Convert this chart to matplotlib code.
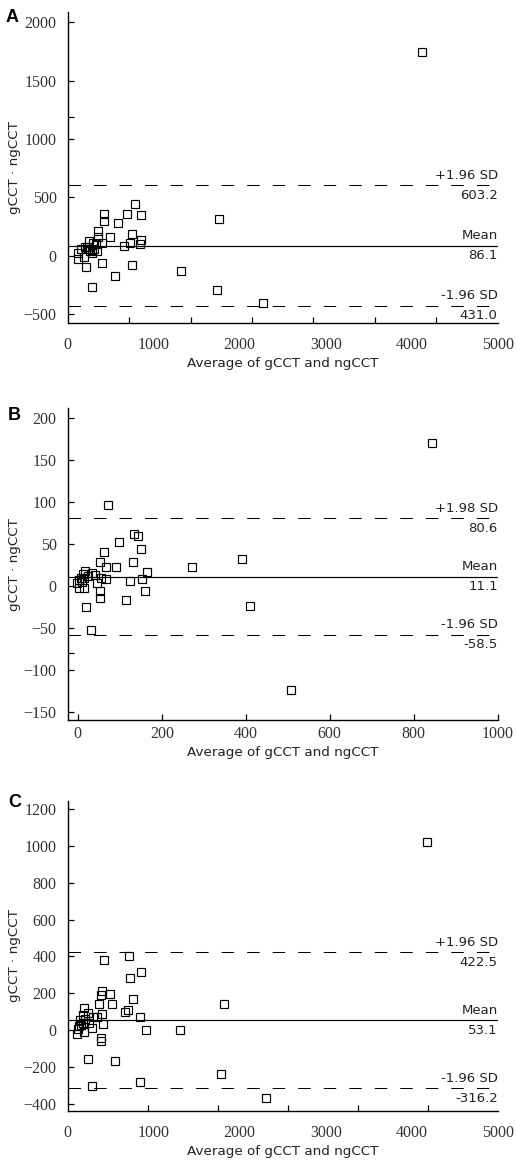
import matplotlib
matplotlib.use("Agg")
import matplotlib.pyplot as plt
from matplotlib.ticker import FixedLocator

# ---------------- data ----------------
A_x = [4119, 1764, 1322, 1741, 2276, 783, 694, 857, 419, 419, 585, 496, 356, 356, 748,
       729, 857, 845, 659, 403, 252, 294, 197, 155, 236, 279, 345, 286, 124, 124, 193,
       217, 403, 748, 554, 279, 230, 300, 260, 330]
A_y = [1748, 314, -128, -291, -403, 443, 360, 351, 357, 295, 278, 163, 212, 158, 183,
       111, 132, 98, 80, 106, 126, 106, 77, 55, 60, 49, 43, 26, 21, -26, -9,
       -99, -60, -82, -174, -271, 75, 60, 40, 100]
A_lines = [603.2, 86.1, -431.0]
A_upper_lbl = ["+1.96 SD", "603.2"]
A_mean_lbl = ["Mean", "86.1"]
A_lower_lbl = ["-1.96 SD", "431.0"]

B_x = [844, 507, 392, 410, 271, 73, 135, 144, 97, 150, 62, 54, 131, 67, 92, 166, 18,
       33, 40, 8, 4, 16, -2, 56, 68, 45, 2, 15, 125, 154, 160, 52, 54, 116, 20, 32,
       10, 25, 12]
B_y = [171, -124, 32, -24, 23, 96, 62, 60, 53, 44, 40, 28, 29, 23, 23, 17, 18,
       16, 13, 10, 7, 10, 4, 10, 8, 4, -3, -3, 6, 8, -6, -6, -14, -17, -25, -53,
       5, 12, 14]
B_lines = [80.6, 11.1, -58.5]
B_upper_lbl = ["+1.98 SD", "80.6"]
B_mean_lbl = ["Mean", "11.1"]
B_lower_lbl = ["-1.96 SD", "-58.5"]

C_x = [4173, 1822, 1310, 1784, 2311, 915, 841, 283, 554, 240, 717, 426, 857, 729, 403,
       489, 384, 764, 368, 519, 706, 671, 838, 403, 186, 240, 174, 298, 337, 143, 182,
       251, 131, 124, 112, 190, 286, 415, 387, 387, 160, 200]
C_y = [1021, 140, 0, -241, -371, -2, -284, -306, -167, -158, 402, 379, 315, 281, 212,
       196, 189, 168, 140, 140, 109, 96, 69, 85, 118, 91, 82, 72, 72, 54, 40,
       40, 23, 5, -22, -13, 9, 33, -45, -62, 30, 60]
C_lines = [422.5, 53.1, -316.2]
C_upper_lbl = ["+1.96 SD", "422.5"]
C_mean_lbl = ["Mean", "53.1"]
C_lower_lbl = ["-1.96 SD", "-316.2"]

x_label = "Average of gCCT and ngCCT"
y_label = "gCCT \u00b7 ngCCT"

# ---------------- figure ----------------
W, H = 516, 1165
fig = plt.figure(figsize=(W / 100, H / 100), dpi=100)

TICKFONT = dict(family="Liberation Serif", size=11.5)
TXTFONT = dict(family="DejaVu Sans", size=9.5)
TXTCOL = "#222222"


def panel(rect, xs, ys, lines, lbls, xlim, ylim, xmaj, xmin_marks, ymaj, ymin_marks, letter, letter_xy):
    ax = fig.add_axes(rect)
    ax.set_xlim(*xlim)
    ax.set_ylim(*ylim)
    for s in ("top", "right"):
        ax.spines[s].set_visible(False)
    for s in ("left", "bottom"):
        ax.spines[s].set_linewidth(1.0)
    ax.plot(xs, ys, linestyle="none", marker="s", ms=5.2, mfc="none", mec="black", mew=0.85, zorder=3)
    up, mean, lo = lines
    ax.axhline(up, color="black", lw=0.75, linestyle=(0, (12, 12.5)), zorder=2)
    ax.axhline(mean, color="black", lw=0.85, zorder=2)
    ax.axhline(lo, color="black", lw=0.75, linestyle=(0, (12, 12.5)), zorder=2)
    trans = ax.get_yaxis_transform()
    for val, (top, bot) in zip(lines, lbls):
        ax.annotate(top, xy=(1.0, val), xycoords=trans, xytext=(0, 2.5), textcoords="offset points",
                    ha="right", va="bottom", color=TXTCOL, **TXTFONT)
        ax.annotate(bot, xy=(1.0, val), xycoords=trans, xytext=(0, -2.5), textcoords="offset points",
                    ha="right", va="top", color=TXTCOL, **TXTFONT)
    # ticks
    if xmin_marks is None:
        ax.set_xticks(xmaj)
        ax.tick_params(axis="x", which="major", direction="in", length=4, width=0.9, pad=4.5)
    else:
        ax.set_xticks(xmaj)
        ax.xaxis.set_minor_locator(FixedLocator(xmin_marks))
        ax.tick_params(axis="x", which="major", length=0, pad=10)
        ax.tick_params(axis="x", which="minor", direction="in", length=4, width=0.9)
    ax.set_yticks(ymaj)
    if ymin_marks:
        ax.yaxis.set_minor_locator(FixedLocator(ymin_marks))
        ax.tick_params(axis="y", which="minor", direction="in", length=4, width=0.9)
    ax.tick_params(axis="y", which="major", direction="in", length=4, width=0.9, pad=8)
    for lab in ax.get_xticklabels() + ax.get_yticklabels():
        lab.set_fontfamily(TICKFONT["family"])
        lab.set_fontsize(TICKFONT["size"])
        lab.set_color("#333333")
    ax.set_xlabel(x_label, fontsize=9.7, family="DejaVu Sans", color=TXTCOL, labelpad=3)
    ax.set_ylabel(y_label, fontsize=9.7, family="DejaVu Sans", color=TXTCOL, labelpad=2)
    fig.text(letter_xy[0] / W, 1 - letter_xy[1] / H, letter, fontsize=13, fontweight="bold",
             family="Liberation Sans", ha="left", va="top")
    return ax


L = 67.7 / W
Wd = 430 / W

panel([L, 1 - 323.3 / H, Wd, (323.3 - 11.7) / H], A_x, A_y, A_lines,
      [A_upper_lbl, A_mean_lbl, A_lower_lbl],
      (0, 5000), (-580, 2092), [0, 1000, 2000, 3000, 4000, 5000],
      [5000 / 7 * k for k in range(1, 8)],
      [-500, 0, 500, 1000, 1500, 2000], [1190], "A", (6, 9))

panel([L, 1 - 720 / H, Wd, (720 - 408.3) / H], B_x, B_y, B_lines,
      [B_upper_lbl, B_mean_lbl, B_lower_lbl],
      (-24, 1000), (-160, 212), [0, 200, 400, 600, 800, 1000], None,
      [-150, -100, -50, 0, 50, 100, 150, 200], [-80], "B", (8, 407))

panel([L, 1 - 1111 / H, Wd, (1111 - 800.7) / H], C_x, C_y, C_lines,
      [C_upper_lbl, C_mean_lbl, C_lower_lbl],
      (0, 5000), (-440, 1247), [0, 1000, 2000, 3000, 4000, 5000],
      [938, 1752, 2564, 3376, 4188, 5000],
      [-400, -200, 0, 200, 400, 600, 800, 1000, 1200], None, "C", (8, 794))

fig.savefig("out.png", dpi=100, facecolor="white")
